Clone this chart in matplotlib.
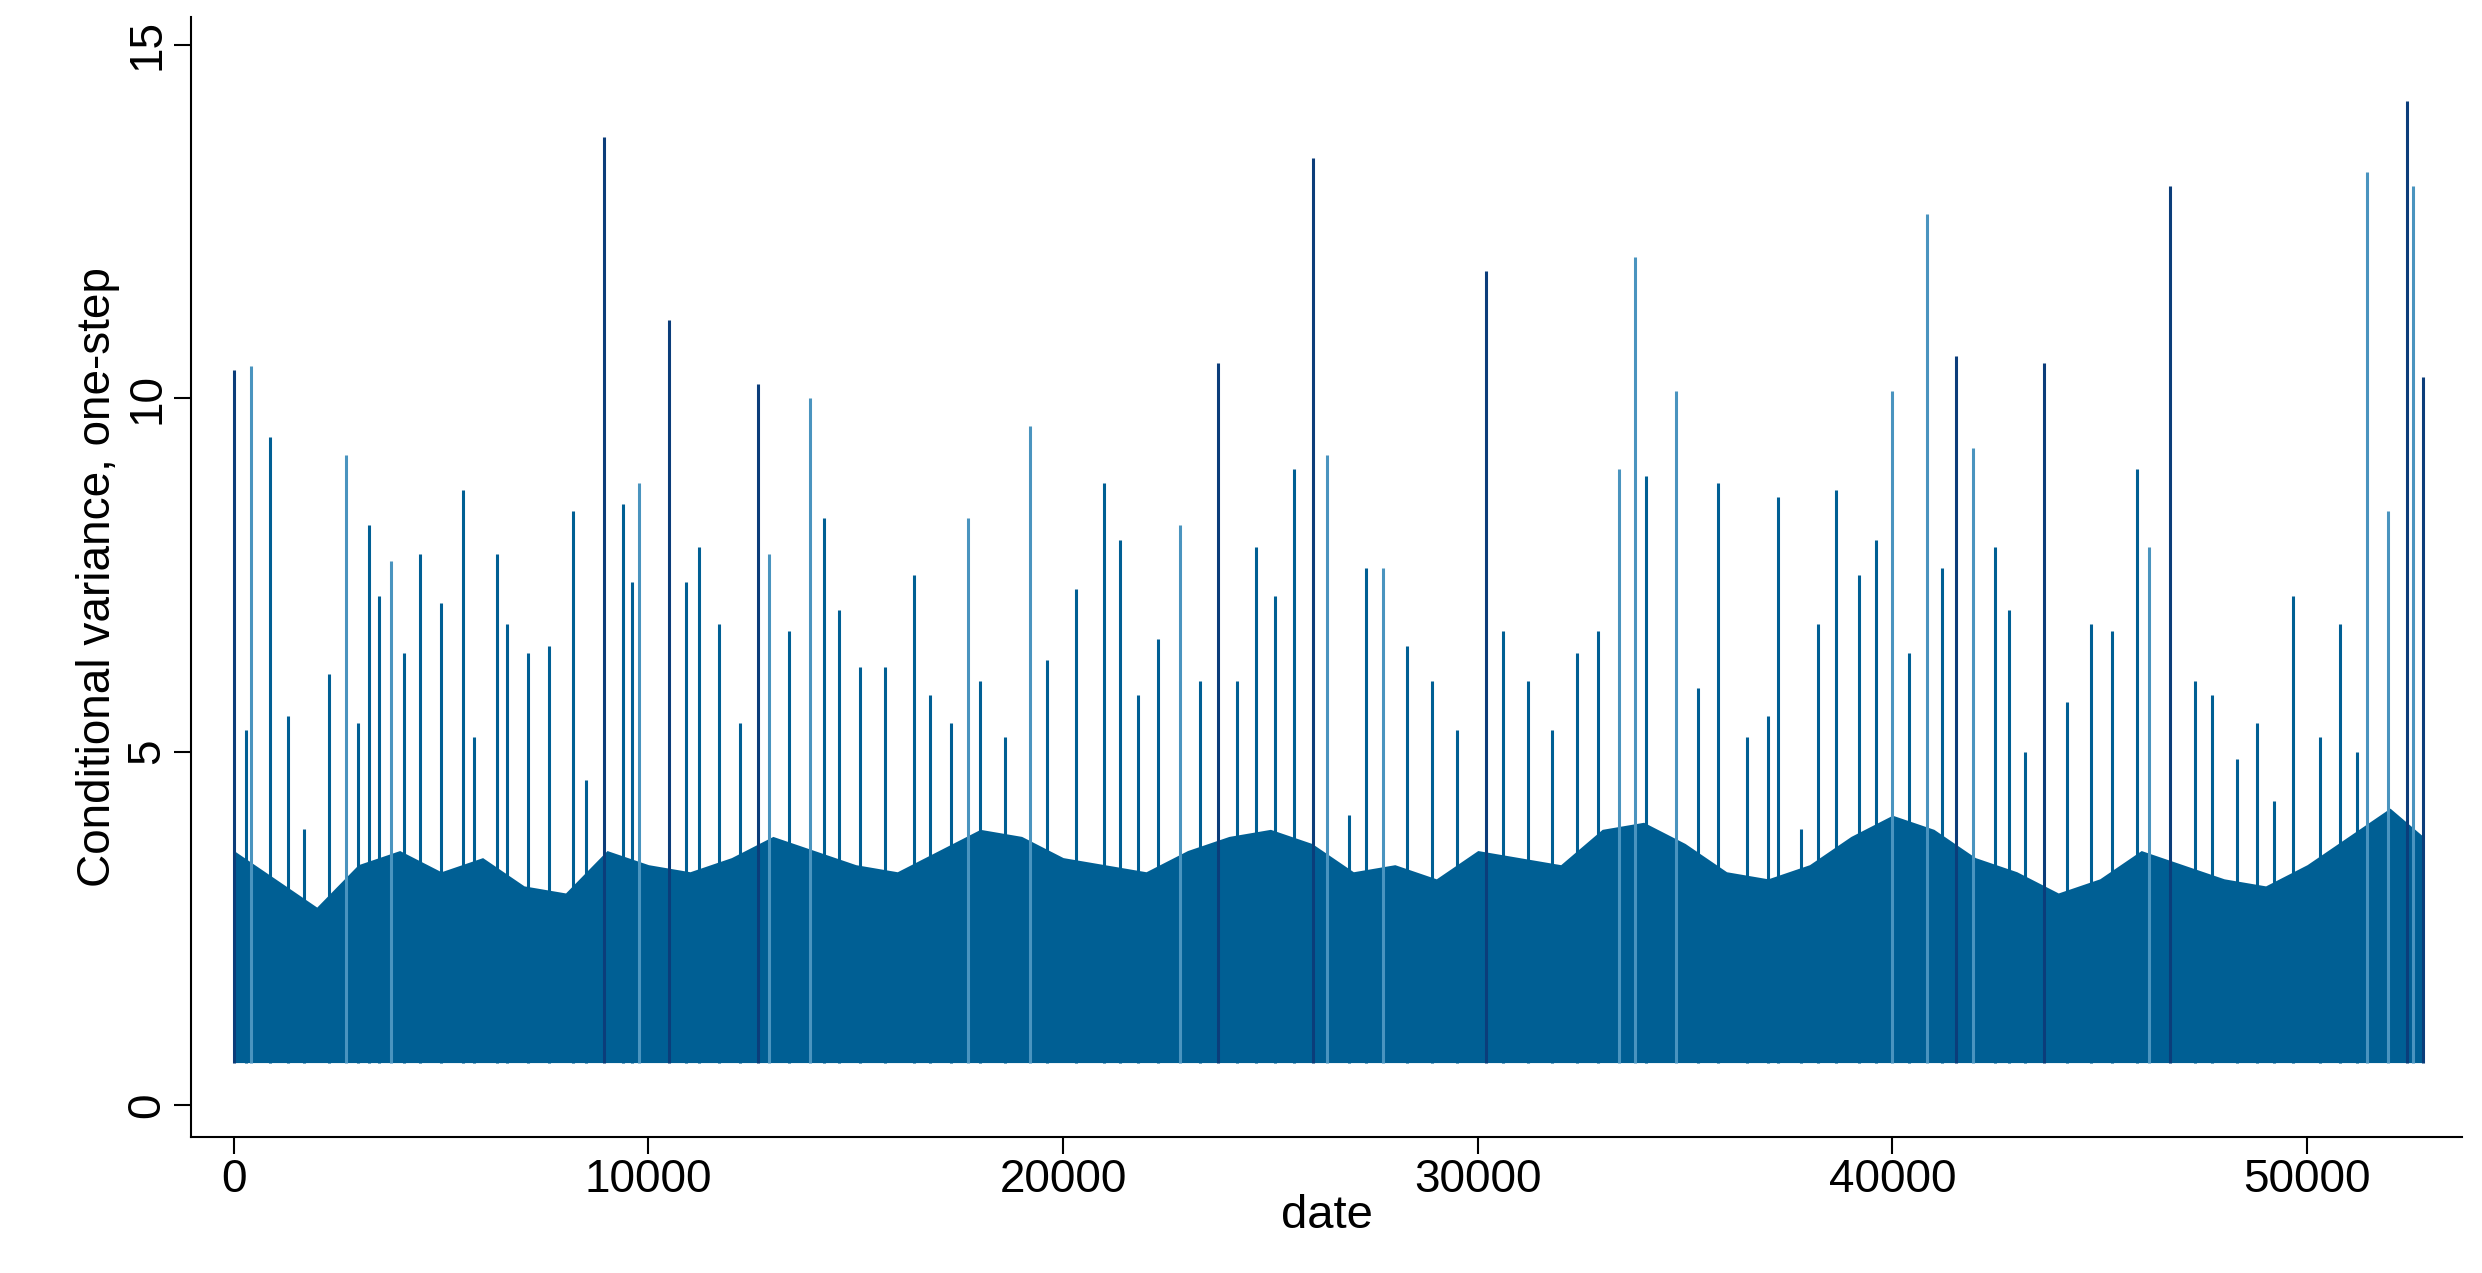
import matplotlib
matplotlib.use("Agg")
import matplotlib.pyplot as plt

plt.rcParams["font.family"] = ["Liberation Sans", "DejaVu Sans"]

# dense body of the series: upper envelope read per 1000-date bin
body_x = list(range(0, 53000, 1000)) + [52800]
body_top = [3.6, 3.2, 2.8, 3.4, 3.6, 3.3, 3.5, 3.1, 3.0, 3.6, 3.4, 3.3, 3.5, 3.8, 3.6,
            3.4, 3.3, 3.6, 3.9, 3.8, 3.5, 3.4, 3.3, 3.6, 3.8, 3.9, 3.7, 3.3, 3.4, 3.2,
            3.6, 3.5, 3.4, 3.9, 4.0, 3.7, 3.3, 3.2, 3.4, 3.8, 4.1, 3.9, 3.5, 3.3, 3.0,
            3.2, 3.6, 3.4, 3.2, 3.1, 3.4, 3.8, 4.2, 3.8]
body_low = 0.6

# tall spikes (date, value); light = lighter blue
spike_x = [0, 420, 880, 2700, 3250, 3780, 4500, 5530, 6340, 8170, 8930, 9390, 9770,
           10500, 11220, 12630, 12900, 13890, 14240, 16410, 17710, 19200, 20990, 21370,
           22820, 23740, 24660, 25570, 26030, 26370, 27710, 30190, 33400, 33780, 34050,
           34770, 35800, 37250, 38630, 40000, 40840, 41530, 41950, 42480, 43660, 45900,
           46200, 46700, 49660, 51450, 51950, 52400, 52560, 52790]
spike_y = [10.4, 10.45, 9.45, 9.2, 8.2, 7.7, 7.8, 8.7, 7.8, 8.4, 13.7, 8.5, 8.8,
           11.1, 7.9, 10.2, 7.8, 10.0, 8.3, 7.5, 8.3, 9.6, 8.8, 8.0,
           8.2, 10.5, 7.9, 9.0, 13.4, 9.2, 7.6, 11.8, 9.0, 12.0, 8.9,
           10.1, 8.8, 8.6, 8.7, 10.1, 12.6, 10.6, 9.3, 7.9, 10.5, 9.0,
           7.9, 13.0, 7.2, 13.2, 8.4, 14.2, 13.0, 10.3]
spike_light = [0, 1, 0, 1, 0, 1, 0, 0, 0, 0, 0, 0, 1,
               0, 0, 0, 1, 1, 0, 0, 1, 1, 0, 0,
               1, 0, 0, 0, 0, 1, 1, 0, 1, 1, 0,
               1, 0, 0, 0, 1, 1, 0, 1, 0, 0, 0,
               1, 0, 0, 1, 1, 0, 1, 0]

# medium spikes (date, value)
mid_x = [300, 1300, 1700, 2300, 3000, 3500, 4100, 5000, 5800, 6600, 7100, 7600, 8500,
         9600, 10900, 11700, 12200, 13400, 14600, 15100, 15700, 16800, 17300, 18000,
         18600, 19600, 20300, 21800, 22300, 23300, 24200, 25100, 26900, 27300, 28300,
         28900, 29500, 30600, 31200, 31800, 32400, 32900, 35300, 36500, 37000, 37800,
         38200, 39200, 39600, 40400, 41200, 42800, 43200, 44200, 44800, 45300, 47300,
         47700, 48300, 48800, 49200, 50300, 50800, 51200]
mid_y = [5.3, 5.5, 3.9, 6.1, 5.4, 7.2, 6.4, 7.1, 5.2, 6.8, 6.4, 6.5, 4.6,
         7.4, 7.4, 6.8, 5.4, 6.7, 7.0, 6.2, 6.2, 5.8, 5.4, 6.0,
         5.2, 6.3, 7.3, 5.8, 6.6, 6.0, 6.0, 7.2, 4.1, 7.6, 6.5,
         6.0, 5.3, 6.7, 6.0, 5.3, 6.4, 6.7, 5.9, 5.2, 5.5, 3.9,
         6.8, 7.5, 8.0, 6.4, 7.6, 7.0, 5.0, 5.7, 6.8, 6.7, 6.0,
         5.8, 4.9, 5.4, 4.3, 5.2, 6.8, 5.0]

dark = "#005f94"
light = "#4a94bf"

fig = plt.figure(figsize=(24.82, 12.73), dpi=100)
ax = fig.add_axes([0.077, 0.107, 0.915, 0.88])
ax.fill_between(body_x, body_low, body_top, color=dark, linewidth=0)
ax.vlines(mid_x, body_low, mid_y, color=dark, linewidth=2.2)
for x, y, l in zip(spike_x, spike_y, spike_light):
    ax.vlines(x, body_low, y, color=light if l else "#0b3d7a" if y > 10 else dark, linewidth=2.2)

ax.set_xlim(-1030, 53740)
ax.set_ylim(-0.45, 15.4)
ax.set_xticks([0, 10000, 20000, 30000, 40000, 50000])
ax.set_yticks([0, 5, 10, 15])
for s in ["top", "right"]:
    ax.spines[s].set_visible(False)
for s in ["left", "bottom"]:
    ax.spines[s].set_linewidth(1.5)
ax.tick_params(labelsize=33, length=12, width=1.5)
plt.setp(ax.get_yticklabels(), rotation=90, va="center")
ax.set_xlabel("date", fontsize=34, labelpad=-6)
ax.set_ylabel("Conditional variance, one-step", fontsize=33, labelpad=4)
fig.savefig("out.png", dpi=100)
